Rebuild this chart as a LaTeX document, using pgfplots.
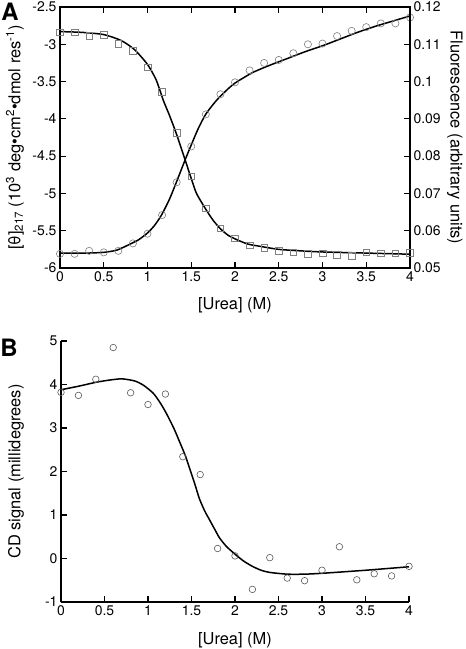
\documentclass[border=0pt]{standalone}
\usepackage{fontspec}
\setmainfont{TeX Gyre Heros}
\usepackage{pgfplots}
\pgfplotsset{compat=1.18}
\usepackage{pgfplotstable}

% Panel A: CD (circles, left axis)
\pgfplotstableread{
x y
0 -5.81
0.1667 -5.81
0.3333 -5.77
0.5 -5.79
0.6667 -5.77
0.8333 -5.67
1.0 -5.54
1.1667 -5.29
1.3333 -4.85
1.5 -4.37
1.6667 -3.94
1.8333 -3.67
2.0 -3.51
2.1667 -3.35
2.3333 -3.25
2.5 -3.21
2.6667 -3.12
2.8333 -3.00
3.0 -2.99
3.1667 -2.89
3.3333 -2.82
3.5 -2.77
3.6667 -2.72
3.8333 -2.72
4.0 -2.64
}\cddata
\pgfplotstableread{
x y
0 -5.80
0.3 -5.80
0.5 -5.79
0.65 -5.76
0.8 -5.68
0.9 -5.62
1.0 -5.53
1.08 -5.43
1.16 -5.29
1.25 -5.08
1.33 -4.85
1.43 -4.55
1.5 -4.35
1.58 -4.13
1.67 -3.93
1.79 -3.75
1.9 -3.62
2.0 -3.52
2.2 -3.38
2.4 -3.28
2.6 -3.19
2.8 -3.10
3.0 -3.02
3.2 -2.93
3.4 -2.84
3.6 -2.76
3.8 -2.69
4.0 -2.62
}\cdfit
% Panel A: fluorescence (squares, right axis)
\pgfplotstableread{
x y
0 0.1132
0.1667 0.1132
0.3333 0.1122
0.5 0.1125
0.6667 0.1102
0.8333 0.1082
1.0 0.1038
1.1667 0.0972
1.3333 0.0862
1.5 0.0746
1.6667 0.0660
1.8333 0.0606
2.0 0.0580
2.1667 0.0561
2.3333 0.0554
2.5 0.0546
2.6667 0.0542
2.8333 0.0538
3.0 0.0539
3.1667 0.0535
3.3333 0.0532
3.5 0.0542
3.6667 0.0539
3.8333 0.0539
4.0 0.0541
}\fldata
\pgfplotstableread{
x y
0 0.1134
0.25 0.1132
0.5 0.1126
0.7 0.1110
0.85 0.1086
1.0 0.1046
1.1 0.1004
1.18 0.0950
1.25 0.0910
1.33 0.0860
1.43 0.0790
1.5 0.0740
1.56 0.0700
1.67 0.0656
1.75 0.0628
1.83 0.0606
1.92 0.0588
2.02 0.0576
2.15 0.0564
2.29 0.0558
2.5 0.0550
2.75 0.0546
3.0 0.0543
3.5 0.0540
4.0 0.0537
}\flfit
% Panel B
\pgfplotstableread{
x y
0 3.82
0.2 3.75
0.4 4.12
0.6 4.85
0.8 3.81
1.0 3.54
1.2 3.78
1.4 2.34
1.6 1.93
1.8 0.23
2.0 0.06
2.2 -0.71
2.4 0.02
2.6 -0.45
2.8 -0.51
3.0 -0.27
3.2 0.27
3.4 -0.49
3.6 -0.35
3.8 -0.40
4.0 -0.18
}\bdata
\pgfplotstableread{
x y
0 3.88
0.2 3.96
0.4 4.05
0.55 4.10
0.7 4.13
0.85 4.08
0.95 3.98
1.06 3.80
1.14 3.58
1.21 3.34
1.3 2.98
1.37 2.65
1.43 2.36
1.48 2.06
1.54 1.70
1.59 1.38
1.65 1.10
1.71 0.88
1.77 0.66
1.82 0.48
1.9 0.28
2.0 0.10
2.1 -0.06
2.2 -0.18
2.3 -0.27
2.4 -0.32
2.6 -0.36
2.8 -0.36
3.0 -0.34
3.5 -0.27
4.0 -0.19
}\bfit

\pgfplotsset{
  common/.style={
    scale only axis,
    anchor=south west,
    tick align=inside,
    major tick length=6bp,
    axis line style={line width=1.1bp},
    every tick/.style={line width=1.1bp, black},
    tick label style={font=\fontsize{14}{16}\selectfont},
    label style={font=\fontsize{16.5}{18}\selectfont},
    /pgf/number format/assume math mode=true,
    xmin=0, xmax=4,
    xtick={0,0.5,...,4},
  },
}

\begin{document}
\begin{tikzpicture}
\useasboundingbox (0,0) rectangle (466bp,-649bp);
% ---------- Panel A, left axis ----------
\begin{axis}[common,
  at={(60bp,-268bp)}, width=350bp, height=261bp,
  ymin=-6, ymax=-2.5,
  ytick={-6,-5.5,...,-2.5},
  xtick pos=both, ytick pos=left,
  xlabel={[Urea] (M)},
  xlabel style={at={(axis description cs:0.5,-0.142)}, anchor=center},
  ylabel={[θ]\textsubscript{217} (10\textsuperscript{3} deg•cm\textsuperscript{2}•dmol res\textsuperscript{-1})},
  ylabel style={at={(axis description cs:-0.129,0.5)}, anchor=center},
]
\addplot[black, line width=1.5bp, smooth, tension=0.4] table[x=x,y=y] {\cdfit};
\addplot[only marks, mark=o, mark size=3.6bp, black!50, mark options={line width=0.6bp}] table[x=x,y=y] {\cddata};
\end{axis}
% ---------- Panel A, right axis ----------
\begin{axis}[common,
  at={(60bp,-268bp)}, width=350bp, height=261bp,
  ymin=0.05, ymax=0.12,
  ytick={0.05,0.06,...,0.12},
  axis x line=none,
  axis y line*=right,
  y axis line style={-},
  scaled y ticks=false,
  yticklabel style={/pgf/number format/fixed, /pgf/number format/precision=2},
  ylabel={Fluorescence (arbitrary units)},
  ylabel style={at={(axis description cs:1.128,0.5)}, anchor=center, rotate=180},
]
\addplot[black, line width=1.5bp, smooth, tension=0.4] table[x=x,y=y] {\flfit};
\addplot[only marks, mark=square, mark size=3.3bp, black!50, mark options={line width=0.6bp}] table[x=x,y=y] {\fldata};
\end{axis}
% ---------- Panel B ----------
\begin{axis}[common,
  at={(61bp,-602bp)}, width=348bp, height=261bp,
  ymin=-1, ymax=5,
  ytick={-1,0,...,5},
  axis x line*=bottom, axis y line*=left,
  x axis line style={-}, y axis line style={-},
  xlabel={[Urea] (M)},
  xlabel style={at={(axis description cs:0.5,-0.146)}, anchor=center},
  ylabel={CD signal (millidegrees)},
  ylabel style={at={(axis description cs:-0.129,0.5)}, anchor=center},
]
\addplot[black, line width=1.5bp, smooth, tension=0.4] table[x=x,y=y] {\bfit};
\addplot[only marks, mark=o, mark size=3.3bp, black!65, mark options={line width=0.6bp}] table[x=x,y=y] {\bdata};
\end{axis}
\node[font=\bfseries\fontsize{24}{24}\selectfont] at (10bp,-12bp) {A};
\node[font=\bfseries\fontsize{24}{24}\selectfont] at (9bp,-348bp) {B};
\end{tikzpicture}
\end{document}
